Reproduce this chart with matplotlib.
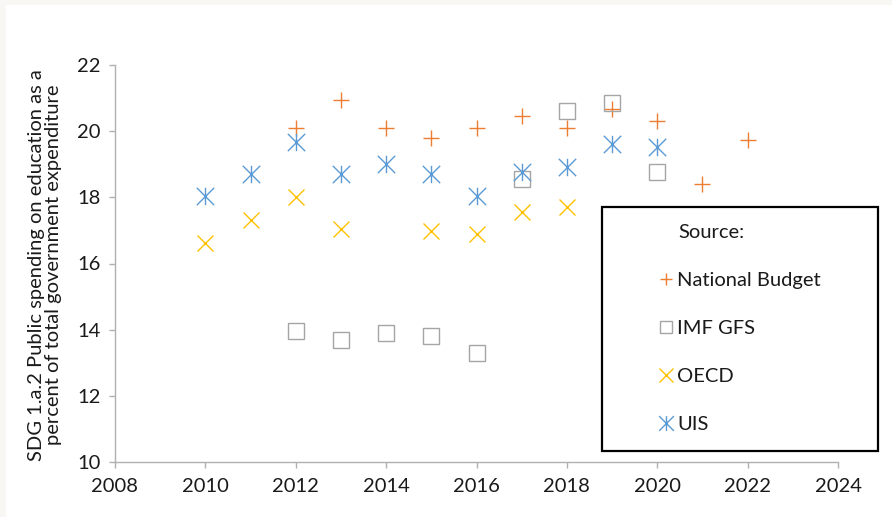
import matplotlib
matplotlib.use("Agg")
import matplotlib.pyplot as plt
from matplotlib.path import Path
from matplotlib.patches import Rectangle

plt.rcParams['font.family'] = ['Lato', 'DejaVu Sans']

# Data
nb_years = [2012, 2013, 2014, 2015, 2016, 2017, 2018, 2019, 2020, 2021, 2022]
nb_vals = [20.1, 20.95, 20.1, 19.8, 20.1, 20.46, 20.1, 20.68, 20.3, 18.4, 19.73]

imf_years = [2012, 2013, 2014, 2015, 2016, 2017, 2018, 2019, 2020]
imf_vals = [13.96, 13.7, 13.9, 13.8, 13.3, 18.55, 20.62, 20.86, 18.76]

oecd_years = [2010, 2011, 2012, 2013, 2015, 2016, 2017, 2018]
oecd_vals = [16.62, 17.31, 18.0, 17.05, 16.98, 16.9, 17.57, 17.72]

uis_years = [2010, 2011, 2012, 2013, 2014, 2015, 2016, 2017, 2018, 2019, 2020]
uis_vals = [18.03, 18.7, 19.67, 18.7, 19.0, 18.7, 18.04, 18.76, 18.91, 19.6, 19.51]

labels = ["National Budget", "IMF GFS", "OECD", "UIS"]
x_ticks = [2008, 2010, 2012, 2014, 2016, 2018, 2020, 2022, 2024]
y_ticks = [10, 12, 14, 16, 18, 20, 22]
ylabel = "SDG 1.a.2 Public spending on education as a\npercent of total government expenditure"

W, H = 892, 517
FS = 14.5
fig = plt.figure(figsize=(W / 100, H / 100), dpi=100, facecolor='#f8f7f3')
fig.add_artist(Rectangle((6 / W, 0), 1 - 6 / W, 1 - 5 / H, transform=fig.transFigure,
                         facecolor='white', edgecolor='none', zorder=-10))

ax = fig.add_axes([115 / W, 1 - 462 / H, (838 - 115) / W, (462 - 65) / H])
ax.set_facecolor('none')

ast = Path([(0, -1), (0, 1), (-1, -1), (1, 1), (-1, 1), (1, -1)],
           [Path.MOVETO, Path.LINETO, Path.MOVETO, Path.LINETO, Path.MOVETO, Path.LINETO])

h1, = ax.plot(nb_years, nb_vals, ls='none', marker='+', ms=11, mew=1.0, color='#ED7D31')
h2, = ax.plot(imf_years, imf_vals, ls='none', marker='s', ms=11, mew=1.0,
              mfc='none', mec='#A5A5A5')
h3, = ax.plot(oecd_years, oecd_vals, ls='none', marker='x', ms=12, mew=1.0, color='#FFC000')
h4, = ax.plot(uis_years, uis_vals, ls='none', marker=ast, ms=12.5, mew=1.0,
              mfc='none', mec='#5B9BD5')

ax.set_xlim(2008, 2024)
ax.set_ylim(10, 22)
ax.set_xticks(x_ticks)
ax.set_yticks(y_ticks)
ax.set_xticklabels([str(t) for t in x_ticks])
ax.set_yticklabels([str(t) for t in y_ticks])
for s in ['top', 'right']:
    ax.spines[s].set_visible(False)
for s in ['left', 'bottom']:
    ax.spines[s].set_color('#b0b0b0')
    ax.spines[s].set_linewidth(1.0)
ax.tick_params(axis='both', direction='out', length=4.5, width=1.0, color='#b0b0b0',
               labelsize=FS, labelcolor='#1a1a1a')
ax.tick_params(axis='x', pad=7)
ax.tick_params(axis='y', pad=6)

fig.text(45 / W, 1 - 265 / H, ylabel, rotation=90, ha='center', va='center',
         fontsize=FS, color='#1a1a1a', linespacing=1.0)

# Legend box
fig.add_artist(Rectangle((602 / W, 1 - 451 / H), (878 - 602) / W, (451 - 207) / H,
                         transform=fig.transFigure, fill=False, edgecolor='black', lw=1.6))
fig.text(678 / W, 1 - 232 / H, "Source:", ha='left', va='center', fontsize=FS, color='#1a1a1a')
leg = fig.legend([h1, h2, h3, h4], labels, loc='upper left',
                 bbox_to_anchor=(658 / W, 1 - 272 / H), frameon=False, fontsize=FS,
                 handlelength=0.8, handletextpad=0.15, labelspacing=1.53,
                 borderpad=0, borderaxespad=0, markerscale=0.85)
for t in leg.get_texts():
    t.set_color('#1a1a1a')

fig.savefig('out.png', dpi=100, facecolor=fig.get_facecolor())
